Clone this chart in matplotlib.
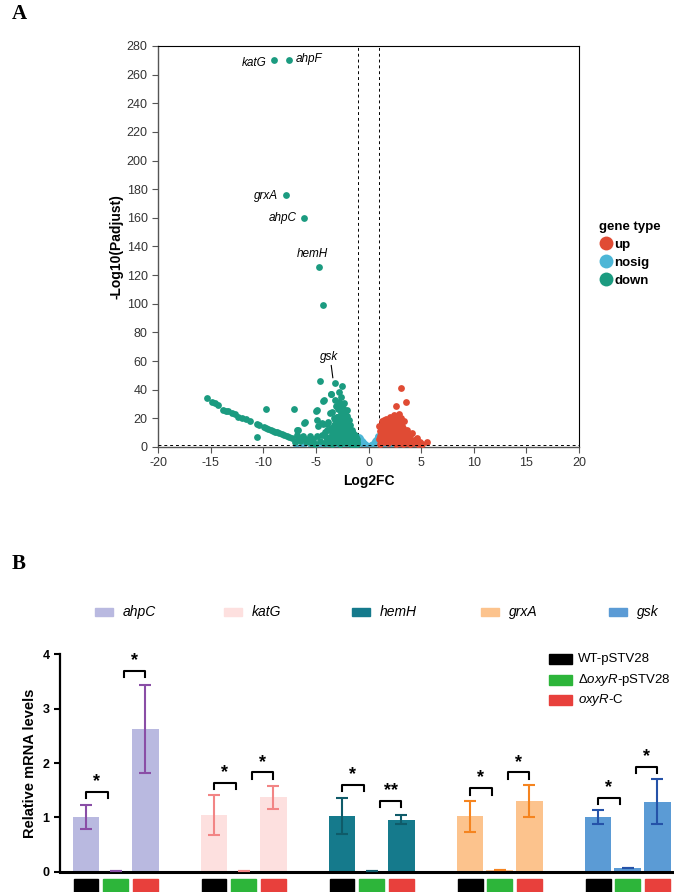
import numpy as np
import matplotlib.pyplot as plt
from matplotlib.patches import Rectangle
from matplotlib.lines import Line2D

plt.rcParams['font.family'] = ['Liberation Sans', 'DejaVu Sans']
plt.rcParams['axes.unicode_minus'] = False
plt.rcParams['mathtext.fontset'] = 'custom'
plt.rcParams['mathtext.rm'] = 'Liberation Sans'
plt.rcParams['mathtext.it'] = 'Liberation Sans:italic'

# ---- Panel A: volcano data ----
down_x = [-8.98, -7.53, -7.87, -6.16, -4.74, -4.36, -3.19,
          -4.58, -2.56, -3.57, -2.78, -2.65, -4.3, -2.34, -5.0, -2.56, -2.08, -3.67, -4.93, -3.03,
          -2.24, -4.45, -3.98, -6.04, -6.67, -3.5, -3.82, -4.87,
          -15.32, -14.84, -14.59, -14.33, -13.8, -13.54, -13.33, -13.0, -12.69, -12.37, -12.05,
          -11.64, -11.26, -10.57, -10.45, -10.57, -9.77, -9.93, -9.7, -9.52, -9.3, -9.11, -8.9,
          -8.73, -8.5, -8.25, -8.0, -7.78, -7.55, -7.3, -7.08, -6.83, -6.67, -6.5, -6.2, -6.1,
          -5.9, -5.72, -5.5, -5.25, -5.05, -4.78, -4.36, -4.24, -3.6, -6.35, -6.0, -5.6, -5.3,
          -4.9, -4.6, -4.2, -4.0, -7.0, -6.8,
          -3.4, -3.3, -3.2, -3.1, -3.0, -2.95, -2.9, -2.85, -2.8, -2.75, -2.7, -2.65, -2.6, -2.55,
          -2.5, -2.5, -2.45, -2.4, -2.35, -2.3, -2.25, -2.2, -2.15, -2.1, -2.05, -2.0, -2.0, -1.95,
          -1.9, -1.85, -1.8, -1.75, -1.7, -1.65, -1.6, -1.55, -1.5, -1.45, -1.4, -1.35, -1.3,
          -1.25, -1.2, -1.15, -1.1, -1.05, -3.5, -3.6, -3.8, -3.7, -3.45, -3.35, -3.25, -3.15,
          -2.95, -2.7, -2.6, -2.9, -3.3, -3.55, -3.05, -2.4, -2.2, -2.05, -1.9, -1.75, -1.6,
          -1.45, -1.3, -1.15, -1.05, -2.85, -2.65, -3.2, -2.25, -1.85, -4.1, -3.9, -4.4, -3.95]
down_y = [270.2, 270.2, 176.2, 160.0, 125.9, 99.2, 44.9,
          46.3, 42.8, 36.8, 38.2, 35.1, 32.3, 30.5, 25.4, 27.0, 25.8, 23.5, 18.8, 21.2,
          20.0, 16.5, 16.1, 17.7, 11.9, 24.7, 17.7, 25.8,
          34.2, 31.7, 30.5, 29.1, 25.8, 25.1, 25.1, 24.0, 22.8, 21.2, 20.0,
          19.3, 18.4, 15.9, 15.5, 7.0, 26.5, 13.7, 13.0, 12.6, 12.0, 11.4, 10.8,
          10.2, 9.6, 9.1, 8.4, 7.7, 7.1, 6.5, 26.5, 11.9, 5.6, 4.2, 7.7, 17.0,
          3.5, 4.9, 2.8, 3.7, 2.2, 14.7, 16.1, 32.8, 37.0, 6.0, 5.5, 8.0, 5.8,
          7.5, 4.2, 3.0, 6.8, 3.5, 8.5,
          2.5, 5.1, 8.0, 11.5, 14.2, 3.6, 6.9, 9.8, 16.8, 12.9, 2.1, 4.8, 7.7, 10.6,
          13.9, 18.1, 22.4, 3.3, 6.1, 8.9, 11.8, 15.2, 2.6, 5.4, 7.4, 9.9, 12.7, 16.4,
          3.9, 6.6, 8.4, 10.9, 2.3, 4.6, 6.2, 8.1, 3.1, 5.2, 7.0, 2.0, 4.0,
          5.6, 3.0, 4.4, 2.4, 3.5, 1.9, 4.4, 2.8, 7.3, 9.6, 12.4, 15.6, 18.9,
          20.6, 19.4, 23.7, 26.5, 20.3, 13.4, 28.3, 26.9, 18.3, 21.4, 13.5, 15.1, 11.8,
          9.9, 8.2, 6.7, 5.3, 31.6, 29.5, 33.0, 24.0, 18.7, 10.3, 12.1, 8.6, 4.1]

up_x = [3.13, 3.6, 2.59, 2.66, 3.93, 4.57, 5.52, 4.88, 2.9, 3.1, 2.4, 2.2, 3.35, 3.7, 4.1, 4.3,
        4.0, 3.8, 3.5, 3.3, 3.1, 2.8, 2.5, 2.3, 2.0, 1.8, 1.6, 1.4, 1.2, 1.05, 1.1, 1.15, 1.1,
        1.3, 1.35, 1.5, 1.55, 1.6, 1.7, 1.85, 1.9, 1.95, 2.0, 2.1, 2.15, 2.25, 2.3, 2.4, 2.45,
        2.6, 2.65, 2.7, 2.75, 2.8, 2.95, 3.0, 3.05, 3.15, 3.25, 3.35, 3.4, 3.6, 3.7, 3.9, 4.2,
        4.5, 4.7, 5.1, 1.25, 1.45, 1.7, 2.05, 2.35, 2.7, 3.2, 1.0, 1.0]
up_y = [41.4, 31.2, 28.9, 21.9, 8.4, 6.5, 3.5, 3.7, 23.0, 20.5, 22.5, 20.4, 18.0, 12.0, 10.0, 5.0,
        4.0, 6.5, 9.0, 13.5, 16.0, 18.5, 17.0, 15.5, 17.8, 16.2, 14.7, 16.8, 13.5, 11.0, 8.0, 4.5, 2.2,
        6.0, 9.8, 12.2, 3.3, 7.1, 10.4, 13.0, 2.6, 5.5, 8.6, 11.3, 14.0, 3.9, 6.8, 9.4, 12.6,
        2.4, 5.0, 7.7, 10.5, 13.8, 3.1, 6.0, 8.8, 11.0, 2.3, 4.5, 7.2, 3.0, 5.3, 2.4, 2.8,
        3.2, 2.2, 2.0, 18.5, 19.2, 19.6, 20.8, 19.5, 16.0, 14.5, 5.8, 14.7]

nosig_x = [-0.95, -0.9, -0.85, -0.8, -0.75, -0.7, -0.65, -0.6, -0.55, -0.5, -0.45, -0.4, -0.35,
           -0.3, -0.25, -0.2, -0.15, -0.1, -0.05, 0.0, 0.05, 0.1, 0.15, 0.2, 0.25, 0.3, 0.35,
           0.4, 0.45, 0.5, 0.55, 0.6, 0.65, 0.7, 0.75, 0.8, 0.85, 0.9, 0.95,
           -6.9, -6.2, -5.5, -5.0, -4.6, -4.3, -3.9, -3.6, -3.3, -3.0, -2.7, -2.4, -2.1, -1.8,
           -1.5, -1.2, 1.2, 1.5, 1.8, 2.1, 2.4, 2.7, 3.0, 3.3, 3.6, 3.9, 4.2]
nosig_y = [7.2, 5.6, 4.3, 6.0, 3.4, 5.0, 2.6, 4.1, 2.0, 3.2, 1.6, 2.4, 1.2,
           1.8, 0.8, 1.2, 0.5, 0.8, 0.3, 0.4, 0.3, 0.7, 0.5, 1.1, 0.8, 1.7, 1.2,
           2.3, 1.6, 3.1, 2.0, 4.0, 2.6, 4.9, 3.3, 5.8, 4.2, 6.7, 7.5,
           0.3, 0.6, 0.4, 0.9, 0.2, 0.7, 0.4, 1.0, 0.3, 0.8, 0.5, 1.0, 0.2, 0.7,
           0.4, 0.9, 0.5, 0.9, 0.3, 0.8, 0.4, 1.0, 0.2, 0.7, 0.4, 0.9, 0.3]

labels_txt = ['katG', 'ahpF', 'grxA', 'ahpC', 'hemH', 'gsk']
labels_idx = [0, 1, 2, 3, 4, 6]

# ---- Panel B: qPCR data ----
genes = ['ahpC', 'katG', 'hemH', 'grxA', 'gsk']
strains = ['WT-pSTV28', r'Δ$\it{oxyR}$-pSTV28', r'$\it{oxyR}$-C']
wt_mean = [1.0, 1.04, 1.02, 1.02, 1.0]
wt_err = [0.22, 0.37, 0.33, 0.29, 0.13]
ko_mean = [0.02, 0.01, 0.02, 0.03, 0.06]
comp_mean = [2.63, 1.37, 0.96, 1.30, 1.29]
comp_err = [0.81, 0.21, 0.09, 0.29, 0.41]
sig1_y = [1.47, 1.64, 1.60, 1.54, 1.36]
sig2_y = [3.70, 1.83, 1.31, 1.83, 1.93]
sig1_lab = ['*', '*', '*', '*', '*']
sig2_lab = ['*', '*', '**', '*', '*']

bar_colors = ['#b9b9e0', '#fde0df', '#157a8c', '#fcc38d', '#5b9bd5']
err_colors = ['#8a4ea6', '#f28585', '#0f5b69', '#f5841f', '#2552a8']
strain_colors = ['#000000', '#2db53a', '#e8403c']

fig = plt.figure(figsize=(6.74, 8.92), dpi=100)

# ================= Panel A =================
ax = fig.add_axes([158/674, 1-447/892, 421/674, 401/892])
c_up, c_no, c_down = '#e04b34', '#4db6d6', '#1b9b80'
ax.scatter(nosig_x, nosig_y, s=24, color=c_no, linewidths=0, zorder=2)
ax.scatter(up_x, up_y, s=24, color=c_up, linewidths=0, zorder=3)
ax.scatter(down_x, down_y, s=24, color=c_down, linewidths=0, zorder=3)

ax.axvline(-1, color='black', ls=(0, (3, 3)), lw=0.7, zorder=1)
ax.axvline(1, color='black', ls=(0, (3, 3)), lw=0.7, zorder=1)
ax.axhline(-np.log10(0.05), color='black', ls=(0, (3, 3)), lw=0.7, zorder=4)

# gene labels
lx = [down_x[i] for i in labels_idx]
ly = [down_y[i] for i in labels_idx]
fs_lab = 8.5
ax.text(lx[0] - 0.7, ly[0] - 2, labels_txt[0], style='italic', fontsize=fs_lab, ha='right', va='center')
ax.text(lx[1] + 0.6, ly[1] + 1, labels_txt[1], style='italic', fontsize=fs_lab, ha='left', va='center')
ax.text(lx[2] - 0.7, ly[2] - 1, labels_txt[2], style='italic', fontsize=fs_lab, ha='right', va='center')
ax.text(lx[3] - 0.7, ly[3], labels_txt[3], style='italic', fontsize=fs_lab, ha='right', va='center')
ax.text(lx[4] - 0.6, ly[4] + 9, labels_txt[4], style='italic', fontsize=fs_lab, ha='center', va='center')
ax.text(lx[5] - 0.6, ly[5] + 18, labels_txt[5], style='italic', fontsize=fs_lab, ha='center', va='center')
ax.plot([lx[5] - 0.35, lx[5] - 0.2], [ly[5] + 12, ly[5] + 3.5], color='black', lw=0.8)

ax.set_xlim(-20, 20)
ax.set_ylim(0, 280)
ax.set_xticks(np.arange(-20, 21, 5))
ax.set_yticks(np.arange(0, 281, 20))
ax.tick_params(labelsize=9, labelcolor='#333333', length=4, width=0.8, color='#555555')
for s in ['left', 'bottom']:
    ax.spines[s].set_color('#555555')
    ax.spines[s].set_linewidth(1.0)
for s in ['top', 'right']:
    ax.spines[s].set_linewidth(0.8)
ax.set_xlabel('Log2FC', fontsize=10, fontweight='bold', labelpad=3)
ax.set_ylabel('-Log10(Padjust)', fontsize=10, fontweight='bold', labelpad=2)

handles = [Line2D([], [], marker='o', ls='', markersize=10, color=c, markeredgewidth=0)
           for c in [c_up, c_no, c_down]]
leg = fig.legend(handles, ['up', 'nosig', 'down'], loc='upper left',
                 bbox_to_anchor=(592/674, 1-214/892), frameon=False, title='gene type',
                 prop={'weight': 'bold', 'size': 9.5}, title_fontproperties={'weight': 'bold', 'size': 9.5},
                 handletextpad=0.1, labelspacing=0.45, handlelength=1.1, borderpad=0)
leg._legend_box.align = 'left'

fig.text(12/674, 1-14/892, 'A', fontsize=15, fontweight='bold', family='Liberation Serif', va='center')
fig.text(12/674, 1-564/892, 'B', fontsize=15, fontweight='bold', family='Liberation Serif', va='center')

# ================= Panel B =================
bx = fig.add_axes([60/674, 1-871.7/892, 612/674, 217.4/892])
gstep = 4.31
w = 0.9
for g in range(len(genes)):
    x0 = g * gstep
    xs = [x0, x0 + 1, x0 + 2]
    vals = [wt_mean[g], ko_mean[g], comp_mean[g]]
    errs = [wt_err[g], 0, comp_err[g]]
    bx.bar(xs, vals, width=w, color=bar_colors[g], zorder=2)
    bx.errorbar(xs, vals, yerr=errs, fmt='none', ecolor=err_colors[g], elinewidth=1.5,
                capsize=4.5, capthick=1.5, zorder=3)
    # significance brackets
    for (xa, xb, yb, lab) in [(x0, x0 + 0.73, sig1_y[g], sig1_lab[g]),
                              (x0 + 1.27, x0 + 2, sig2_y[g], sig2_lab[g])]:
        bx.plot([xa, xa, xb, xb], [yb - 0.12, yb, yb, yb - 0.12], color='black', lw=1.5, zorder=4)
        bx.text((xa + xb) / 2, yb + 0.03, lab, fontsize=13, fontweight='bold', ha='center', va='bottom')
    # colored strain boxes under axis
    for j in range(3):
        bx.add_patch(Rectangle((xs[j] - 0.42, -0.40), 0.84, 0.265, color=strain_colors[j],
                               clip_on=False, transform=bx.transData))

bx.set_xlim(-0.875, 4 * gstep + 2.49)
bx.set_ylim(0, 4)
bx.set_yticks([0, 1, 2, 3, 4])
bx.set_xticks([])
bx.tick_params(axis='y', labelsize=9, width=1.5, length=4)
for t in bx.get_yticklabels():
    t.set_fontweight('bold')
bx.spines['top'].set_visible(False)
bx.spines['right'].set_visible(False)
bx.spines['left'].set_linewidth(1.6)
bx.spines['bottom'].set_linewidth(2.2)
bx.set_ylabel('Relative mRNA levels', fontsize=10.5, fontweight='bold', labelpad=4)

# gene legend (top row)
for g in range(len(genes)):
    px = (95 + g * 128.5) / 674
    fig.patches.append(Rectangle((px, 1-616/892), 18/674, 8/892, color=bar_colors[g],
                                 transform=fig.transFigure, figure=fig))
    fig.text(px + 28/674, 1-612/892, genes[g], style='italic', fontsize=10, va='center')

# strain legend
for j in range(3):
    py = 659 + j * 20.5
    fig.patches.append(Rectangle((549/674, 1-(py + 5)/892), 23/674, 10/892, color=strain_colors[j],
                                 transform=fig.transFigure, figure=fig))
    fig.text(578/674, 1-py/892, strains[j], fontsize=9.5, va='center')

fig.savefig('out.png', dpi=100)
